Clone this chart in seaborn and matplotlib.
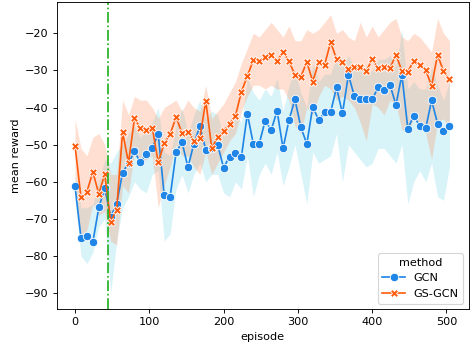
import numpy as np
import pandas as pd
import seaborn as sns
import matplotlib.pyplot as plt

# episodes logged every 8 steps
episodes = list(range(0, 512, 8))

gcn_mean = [-61.2, -75.1, -74.6, -76.2, -66.9, -61.8, -69.4, -66.0, -57.5, -55.0,
            -51.8, -54.8, -52.5, -50.8, -47.2, -63.5, -64.1, -52.1, -49.3, -56.1,
            -49.7, -45.1, -51.3, -50.8, -50.1, -56.2, -53.2, -52.2, -53.2, -41.7,
            -49.8, -49.7, -43.5, -46.1, -40.9, -51.0, -43.4, -37.8, -45.3, -49.8,
            -39.8, -43.4, -41.3, -41.3, -34.6, -41.6, -31.2, -36.9, -37.8, -37.8,
            -37.8, -34.6, -35.3, -33.9, -39.3, -31.2, -45.7, -42.2, -45.0, -45.6,
            -38.1, -44.3, -46.2, -45.0]
gcn_lo = [-65, -80, -82, -79, -72, -70, -90, -76, -67, -64,
          -60, -62, -63, -58, -57, -76, -74, -62, -58, -63,
          -58, -55, -60, -58, -58, -63, -64, -60, -62, -53,
          -64, -58, -55, -58, -52, -61, -56, -50, -58, -66,
          -52, -55, -54, -53, -47, -60, -50, -52, -54, -56,
          -55, -51, -51, -53, -55, -50, -66, -60, -57, -60,
          -55, -64, -65, -56]
gcn_hi = [-58, -67, -67, -66, -60, -54, -55, -52, -50, -47,
          -45, -48, -46, -44, -40, -52, -53, -45, -40, -47,
          -42, -38, -43, -41, -42, -48, -44, -42, -44, -32,
          -36, -38, -35, -37, -32, -41, -34, -30, -36, -40,
          -28, -33, -31, -31, -26, -29, -26, -29, -29, -31,
          -30, -27, -27, -26, -29, -19, -35, -33, -35, -35,
          -29, -34, -38, -33]

gs_mean = [-50.3, -64.2, -62.7, -57.3, -63.3, -57.9, -70.8, -67.5, -46.6, -54.9,
           -42.9, -45.6, -46.1, -45.4, -54.8, -49.6, -47.2, -42.6, -46.8, -46.5,
           -48.9, -48.2, -38.2, -50.9, -48.0, -46.2, -44.4, -42.2, -35.7, -31.5,
           -27.2, -27.6, -26.4, -25.8, -27.5, -25.0, -27.5, -31.2, -31.7, -27.7,
           -33.0, -27.8, -28.5, -22.4, -26.9, -27.7, -29.7, -29.0, -29.0, -30.2,
           -27.0, -29.4, -29.0, -29.4, -25.8, -30.1, -30.3, -27.4, -28.5, -29.9,
           -34.2, -25.8, -30.2, -32.3]
gs_lo = [-60, -76, -73, -66, -69, -68, -76, -77, -61, -63,
         -52, -55, -54, -53, -67, -61, -56, -50, -53, -53,
         -56, -58, -52, -58, -55, -52, -49, -47, -41, -37,
         -34, -34, -35, -34, -35, -35, -38, -45, -47, -40,
         -42, -37, -34, -35, -38, -37, -38, -40, -44, -49,
         -39, -40, -42, -38, -39, -46, -47, -43, -44, -47,
         -54, -44, -43, -46]
gs_hi = [-43, -51, -53, -48, -47, -50, -58, -58, -38, -42,
         -37, -38, -38, -40, -43, -40, -39, -38, -41, -38,
         -40, -41, -34, -43, -41, -39, -36, -33, -28, -24,
         -20, -21, -19, -17, -19, -21, -18, -22, -22, -19,
         -20, -19, -17, -15, -20, -19, -21, -22, -17, -21,
         -18, -21, -19, -17, -16, -21, -22, -20, -21, -23,
         -25, -16, -20, -22]

methods = ["GCN", "GS-GCN"]
switch_episode = 45

df = pd.DataFrame({
    "episode": episodes * 2,
    "mean reward": gcn_mean + gs_mean,
    "method": ["GCN"] * len(episodes) + ["GS-GCN"] * len(episodes),
})

palette = {"GCN": "#1f85e6", "GS-GCN": "#ff5c0d"}

DPI = 81
fig, ax = plt.subplots(figsize=(473 / DPI, 347 / DPI), dpi=DPI)
fig.subplots_adjust(left=0.12, right=0.9915, top=0.994, bottom=0.109)

ax.fill_between(episodes, gcn_lo, gcn_hi, color="#3cc8e0", alpha=0.2, lw=0)
ax.fill_between(episodes, gs_lo, gs_hi, color="#ff8c5a", alpha=0.27, lw=0)

sns.lineplot(data=df, x="episode", y="mean reward", hue="method", style="method",
             markers=True, dashes=False, palette=palette, hue_order=methods,
             style_order=methods, markersize=7.5, ax=ax)

ax.axvline(switch_episode, color="#1fb01f", ls="-.", lw=1.5)

ax.set_ylim(-94.3, -11.6)
ax.set_xlim(-24.6, 530.3)
ax.set_yticks(range(-90, -10, 10))
ax.legend(title="method", loc="lower right")

plt.savefig("out.png", dpi=DPI)
